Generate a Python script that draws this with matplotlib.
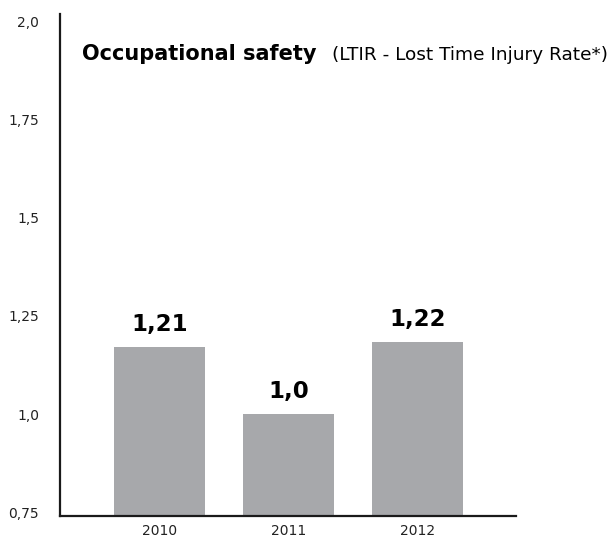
import matplotlib
matplotlib.use('Agg')
import matplotlib.pyplot as plt

plt.rcParams['font.family'] = ['DejaVu Sans']

# data
years = ['2010', '2011', '2012']
bar_heights = [1.171, 1.0, 1.184]        # as drawn
value_labels = ['1,21', '1,0', '1,22']   # as printed above the bars
y_ticks = [0.75, 1.0, 1.25, 1.5, 1.75, 2.0]
y_tick_labels = ['0,75', '1,0', '1,25', '1,5', '1,75', '2,0']

W, H = 614, 541
fig = plt.figure(figsize=(W / 100, H / 100), dpi=100)
ax = fig.add_axes([60 / W, 1 - 516 / H, (516 - 60) / W, (516 - 14) / H])

floor = 0.7398
x = list(range(len(years)))
ax.bar(x, [h - floor for h in bar_heights], bottom=floor, width=0.705,
       color='#a7a8ab', zorder=2)

ax.set_ylim(floor, 2.0204)
ax.set_xlim(-0.771, 2.764)

ax.set_yticks(y_ticks)
ax.set_yticklabels(y_tick_labels)
ax.set_xticks(x)
ax.set_xticklabels(years)
ax.tick_params(axis='both', length=0, labelsize=10, colors='#222222')
ax.tick_params(axis='y', pad=15)
ax.tick_params(axis='x', pad=6)

for side in ['top', 'right']:
    ax.spines[side].set_visible(False)
for side in ['left', 'bottom']:
    ax.spines[side].set_linewidth(1.6)
    ax.spines[side].set_color('#1a1a1a')

for xi, h, lab in zip(x, bar_heights, value_labels):
    ax.annotate(lab, (xi, h), xytext=(0, 8), textcoords='offset points',
                ha='center', va='bottom', fontsize=16.5, fontweight='bold', color='black')

fig.text(82 / W, 1 - 60 / H, 'Occupational safety', fontsize=15, fontweight='bold',
         ha='left', va='baseline', color='black')
fig.text(332 / W, 1 - 60 / H, '(LTIR - Lost Time Injury Rate*)', fontsize=13.3,
         ha='left', va='baseline', color='black')

fig.savefig('out.png', dpi=100)
